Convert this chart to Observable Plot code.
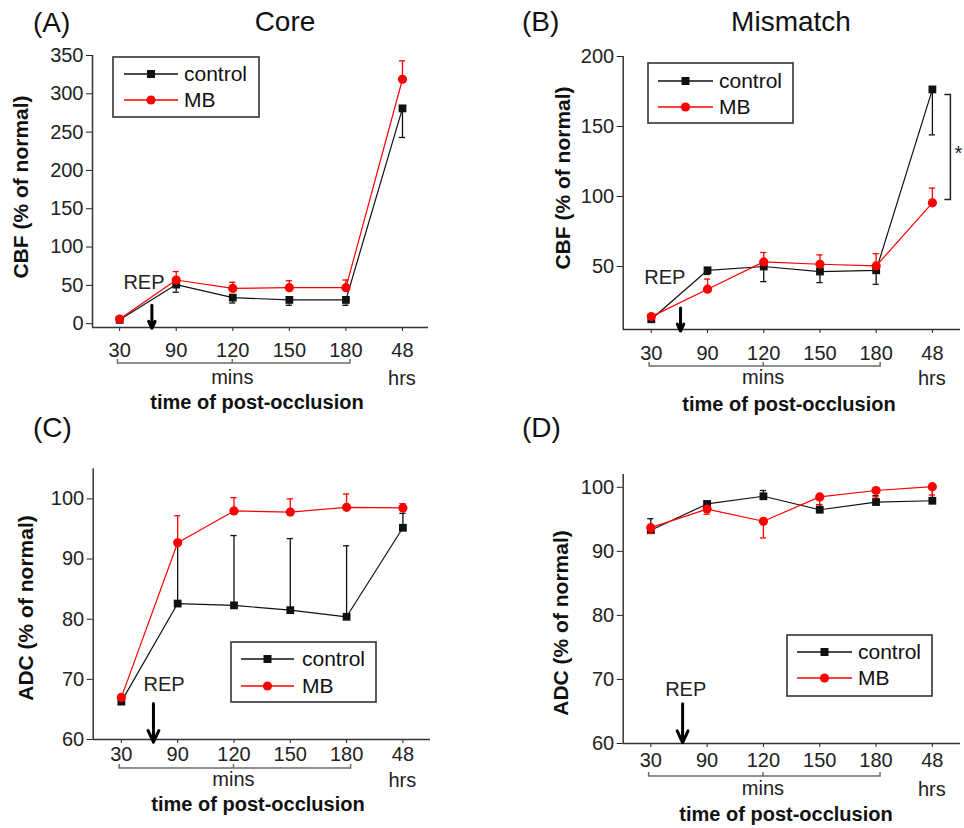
<!DOCTYPE html>
<html>
<head>
<meta charset="utf-8">
<script src="https://cdn.jsdelivr.net/npm/d3@7"></script>
<script src="https://cdn.jsdelivr.net/npm/@observablehq/plot@0.6"></script>
<style>
  body { margin: 0; background: #fff; }
  #wrap { position: relative; width: 964px; height: 828px; overflow: hidden; background: #fff; }
  #wrap svg { position: absolute; }
</style>
</head>
<body>
<div id="wrap"></div>
<script>
// ---------- data ----------
const timeLabels = ["30", "90", "120", "150", "180", "48"];
const seriesNames = ["control", "MB"];

// (A) Core – CBF (% of normal)
const coreCbfControl   = [5, 51, 34, 31, 31, 281];
const coreCbfControlSd = [2, 10, 7, 7, 7, 38];
const coreCbfMB        = [6, 57, 46, 47, 47, 319];
const coreCbfMBSd      = [2, 11, 8, 9, 10, 24];

// (B) Mismatch – CBF (% of normal)
const misCbfControl    = [12.3, 47.3, 50.0, 46.4, 47.3, 176.5];
const misCbfControlSd  = [1.5, 3, 10.8, 7.9, 10.0, 32.5];
const misCbfMB         = [14.2, 33.8, 53.3, 51.6, 50.4, 95.5];
const misCbfMBSd       = [1.5, 7.2, 6.7, 6.7, 8.8, 10.5];

// (C) Core – ADC (% of normal)
const coreAdcControl   = [66.3, 82.6, 82.3, 81.5, 80.4, 95.2];
const coreAdcControlSd = [0.4, 10.1, 11.6, 11.9, 11.8, 2.4];
const coreAdcMB        = [67.0, 92.7, 98.0, 97.8, 98.6, 98.5];
const coreAdcMBSd      = [0.3, 4.5, 2.2, 2.2, 2.2, 0.7];

// (D) Mismatch – ADC (% of normal)
const misAdcControl    = [93.3, 97.4, 98.6, 96.5, 97.7, 97.9];
const misAdcControlSd  = [1.8, 0.3, 0.9, 0.8, 1.0, 1.8];
const misAdcMB         = [93.7, 96.6, 94.7, 98.5, 99.5, 100.1];
const misAdcMBSd       = [0.9, 0.8, 2.6, 1.2, 1.0, 1.3];

const cbfTicksCore = [0, 50, 100, 150, 200, 250, 300, 350];
const cbfTicksMis  = [50, 100, 150, 200];
const adcTicks     = [60, 70, 80, 90, 100];

// ---------- styling / layout ----------
const BLACK = "#111";
const RED = "#ff0000";
const FONT = "'Liberation Sans', Arial, Helvetica, sans-serif";

const panels = [
  { left: 0, top: 0, width: 480, height: 414, margin: [55, 52, 87, 92],
    yDomain: [-5, 350], yTicks: cbfTicksCore, xDomain: [-0.48, 5.46], tickPad: 11,
    control: coreCbfControl, controlSd: coreCbfControlSd, controlDir: -1,
    mb: coreCbfMB, mbSd: coreCbfMBSd, mbDir: 1,
    tag: "(A)", tagX: 33, tagY: 32, heading: "Core", headingX: 285, headingY: 31,
    yLabel: "CBF (% of normal)", yLabelX: 21, yLabelY: 187,
    xLabelX: 257, xLabelY: 409, bracketY: 363, unitY: 384,
    legend: { x: 113, y: 57, w: 146, h: 60, r1: 74, r2: 100, lx: 124, lw: 54, tx: 184 },
    rep: { tx: 0.43, ty: 53.8, ax: 0.57, ay1: 23.9, ay2: -6 } },
  { left: 480, top: 0, width: 484, height: 414, margin: [56, 4, 85, 142.7],
    yDomain: [5, 200], yTicks: cbfTicksMis, xDomain: [-0.5, 5.5], tickPad: 12,
    control: misCbfControl, controlSd: misCbfControlSd, controlDir: -1,
    mb: misCbfMB, mbSd: misCbfMBSd, mbDir: 1,
    tag: "(B)", tagX: 42, tagY: 31, heading: "Mismatch", headingX: 311, headingY: 31,
    yLabel: "CBF (% of normal)", yLabelX: 83, yLabelY: 178,
    xLabelX: 309, xLabelY: 411, bracketY: 366, unitY: 384,
    legend: { x: 168, y: 63, w: 145, h: 60, r1: 81, r2: 107, lx: 178, lw: 55, tx: 239 },
    rep: { tx: 0.24, ty: 41.8, ax: 0.52, ay1: 20.4, ay2: 3.9 },
    sig: { y1: 172.5, y2: 97.5 } },
  { left: 0, top: 410, width: 480, height: 418, margin: [58.3, 50, 89, 92.7],
    yDomain: [60, 105], yTicks: adcTicks, xDomain: [-0.5, 5.49], tickPad: 3,
    control: coreAdcControl, controlSd: coreAdcControlSd, controlDir: 1,
    mb: coreAdcMB, mbSd: coreAdcMBSd, mbDir: 1,
    tag: "(C)", tagX: 33, tagY: 27, heading: null,
    yLabel: "ADC (% of normal)", yLabelX: 26, yLabelY: 198,
    xLabelX: 258, xLabelY: 401, bracketY: 358, unitY: 376,
    legend: { x: 231, y: 232, w: 145, h: 60, r1: 249, r2: 276, lx: 241, lw: 53, tx: 302 },
    rep: { tx: 0.76, ty: 69.2, ax: 0.57, ay1: 66.0, ay2: 59.55 } },
  { left: 480, top: 410, width: 484, height: 418, margin: [64, 4, 85, 142.7],
    yDomain: [60, 102], yTicks: adcTicks, xDomain: [-0.49, 5.5], tickPad: 5,
    control: misAdcControl, controlSd: misAdcControlSd, controlDir: 1,
    mb: misAdcMB, mbSd: misAdcMBSd, mbDir: -1,
    tag: "(D)", tagX: 42, tagY: 27, heading: null,
    yLabel: "ADC (% of normal)", yLabelX: 81, yLabelY: 213,
    xLabelX: 306, xLabelY: 411, bracketY: 366, unitY: 385,
    legend: { x: 307, y: 225, w: 145, h: 61, r1: 242, r2: 268, lx: 317, lw: 55, tx: 378 },
    rep: { tx: 0.62, ty: 68.4, ax: 0.565, ay1: 66.2, ay2: 60.15 } }
];

function rowsOf(values, sds, dir, name) {
  return values.map((v, i) => ({ i, v, e: v + dir * sds[i], series: name }));
}

function decor(p) {
  return (index, scales) => {
    const X = scales.x, Y = scales.y;
    const g = d3.create("svg:g").attr("font-family", FONT);
    // bracket under minutes
    const x0 = X(-0.03), x1 = X(4.08), xm = X(2), yb = p.bracketY;
    g.append("path")
      .attr("d", `M${x0},${yb - 4}V${yb}H${x1}V${yb - 4}M${xm},${yb}V${yb - 4}`)
      .attr("fill", "none").attr("stroke", "#6b6b6b").attr("stroke-width", 1.5);
    g.append("text").attr("x", xm).attr("y", p.unitY).attr("text-anchor", "middle")
      .attr("font-size", 20).attr("fill", "#222").text("mins");
    g.append("text").attr("x", X(5)).attr("y", p.unitY + 1).attr("text-anchor", "middle")
      .attr("font-size", 20).attr("fill", "#222").text("hrs");
    // axis titles
    g.append("text").attr("x", p.xLabelX).attr("y", p.xLabelY).attr("text-anchor", "middle")
      .attr("font-size", 20).attr("font-weight", "bold").attr("fill", "#111").text("time of post-occlusion");
    g.append("text").attr("transform", `translate(${p.yLabelX},${p.yLabelY}) rotate(-90)`)
      .attr("dy", "0.35em").attr("text-anchor", "middle")
      .attr("font-size", 21).attr("font-weight", "bold").attr("fill", "#111").text(p.yLabel);
    // panel tag and heading
    g.append("text").attr("x", p.tagX).attr("y", p.tagY).attr("text-anchor", "start")
      .attr("font-size", 28).attr("fill", "#111").text(p.tag);
    if (p.heading) g.append("text").attr("x", p.headingX).attr("y", p.headingY).attr("text-anchor", "middle")
      .attr("font-size", 28).attr("fill", "#111").text(p.heading);
    // legend
    const L = p.legend;
    g.append("rect").attr("x", L.x).attr("y", L.y).attr("width", L.w).attr("height", L.h)
      .attr("fill", "white").attr("stroke", "#333").attr("stroke-width", 1.6);
    [[L.r1, BLACK, seriesNames[0], "square"], [L.r2, RED, seriesNames[1], "circle"]].forEach(([ry, c, label, sym]) => {
      g.append("line").attr("x1", L.lx).attr("x2", L.lx + L.lw).attr("y1", ry).attr("y2", ry)
        .attr("stroke", c).attr("stroke-width", 1.3);
      const mx = L.lx + L.lw / 2;
      if (sym === "square") g.append("rect").attr("x", mx - 4).attr("y", ry - 4).attr("width", 8).attr("height", 8).attr("fill", c);
      else g.append("circle").attr("cx", mx).attr("cy", ry).attr("r", 4.6).attr("fill", c);
      g.append("text").attr("x", L.tx).attr("y", ry).attr("dy", "0.35em").attr("text-anchor", "start")
        .attr("font-size", 21).attr("fill", "#111").text(label);
    });
    // significance bracket
    if (p.sig) {
      const xb = X(5) + 18.5, ya = Y(p.sig.y1), yz = Y(p.sig.y2);
      g.append("path").attr("d", `M${xb - 6},${ya}H${xb}V${yz}H${xb - 6}`)
        .attr("fill", "none").attr("stroke", "#222").attr("stroke-width", 1.5);
      g.append("text").attr("x", xb + 4).attr("y", (ya + yz) / 2 + 13).attr("text-anchor", "start")
        .attr("font-size", 20).attr("fill", "#1a1a40").text("*");
    }
    return g.node();
  };
}

const wrap = document.getElementById("wrap");

panels.forEach(p => {
  const ctrl = rowsOf(p.control, p.controlSd, p.controlDir, "control");
  const mb = rowsOf(p.mb, p.mbSd, p.mbDir, "MB");
  const capW = 0.055;
  const svg = Plot.plot({
    width: p.width,
    height: p.height,
    marginTop: p.margin[0],
    marginRight: p.margin[1],
    marginBottom: p.margin[2],
    marginLeft: p.margin[3],
    style: { fontFamily: FONT, fontSize: "20px", color: "#222", background: "transparent", overflow: "visible" },
    x: { type: "linear", domain: p.xDomain, ticks: [0, 1, 2, 3, 4, 5], tickFormat: i => timeLabels[i],
         tickSize: 4, tickPadding: p.tickPad, label: null },
    y: { domain: p.yDomain, ticks: p.yTicks, tickSize: 6, tickPadding: 3, label: null },
    marks: [
      Plot.ruleY([p.yDomain[0]], { stroke: "#333", strokeWidth: 1.5 }),
      Plot.ruleX([p.xDomain[0]], { stroke: "#333", strokeWidth: 1.5 }),
      // control
      Plot.line(ctrl, { x: "i", y: "v", stroke: BLACK, strokeWidth: 1.2 }),
      Plot.ruleX(ctrl, { x: "i", y1: "v", y2: "e", stroke: BLACK, strokeWidth: 1.3 }),
      Plot.ruleY(ctrl, { y: "e", x1: d => d.i - capW, x2: d => d.i + capW, stroke: BLACK, strokeWidth: 1.3 }),
      Plot.dot(ctrl, { x: "i", y: "v", symbol: "square", r: 4.4, fill: BLACK, stroke: null }),
      // MB
      Plot.line(mb, { x: "i", y: "v", stroke: RED, strokeWidth: 1.2 }),
      Plot.ruleX(mb, { x: "i", y1: "v", y2: "e", stroke: RED, strokeWidth: 1.3 }),
      Plot.ruleY(mb, { y: "e", x1: d => d.i - capW, x2: d => d.i + capW, stroke: RED, strokeWidth: 1.3 }),
      Plot.dot(mb, { x: "i", y: "v", symbol: "circle", r: 4.6, fill: RED, stroke: null }),
      // reperfusion annotation
      Plot.text([p.rep], { x: "tx", y: "ty", text: () => "REP", fontSize: 20, fill: "#222" }),
      Plot.arrow([p.rep], { x1: "ax", x2: "ax", y1: "ay1", y2: "ay2", stroke: "#000", strokeWidth: 3,
                            headLength: 7, headAngle: 50 }),
      decor(p)
    ]
  });
  svg.style.left = p.left + "px";
  svg.style.top = p.top + "px";
  wrap.appendChild(svg);
});
</script>
</body>
</html>
